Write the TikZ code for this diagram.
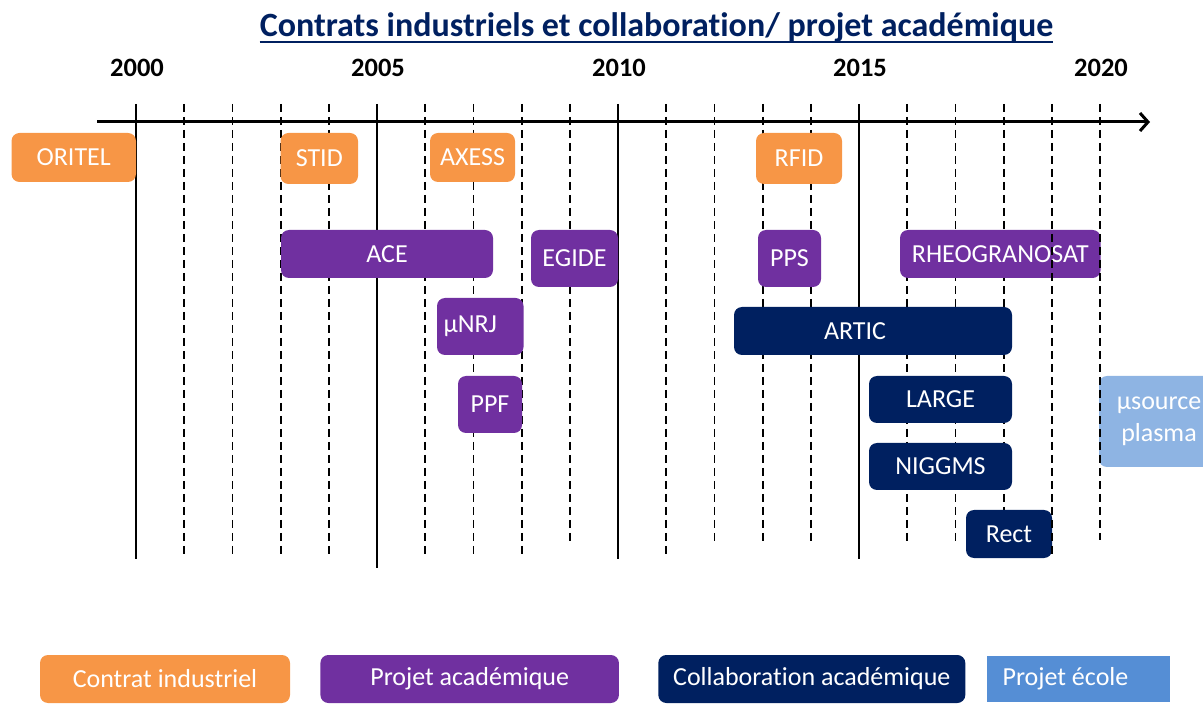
\documentclass[tikz,border=0pt]{standalone}
\usepackage{fontspec}
\setmainfont{Carlito}[Ligatures=NoCommon]
\usetikzlibrary{arrows.meta, positioning}
\definecolor{orangeC}{HTML}{F79646}
\definecolor{purpleA}{HTML}{7030A0}
\definecolor{navyC}{HTML}{002060}
\definecolor{skyE}{HTML}{8EB4E3}
\definecolor{blueE}{HTML}{558ED5}
\tikzset{%
	box/.style={rectangle, rounded corners=8pt, inner sep=0mm, text=white,%
		font=\fontsize{26}{32}\selectfont},
	indus/.style={box, fill=orangeC},
	acad/.style={box, fill=purpleA},
	collab/.style={box, fill=navyC},
	ecole/.style={box, fill=skyE},
	legend/.style={minimum height=48pt},
	title/.style={inner sep=0mm, anchor=base, text=navyC, font=\bfseries\fontsize{34}{40}\selectfont},
	year/.style={inner sep=0mm, anchor=base, font=\bfseries\fontsize{26.5}{30}\selectfont},
	major/.style={line width=2.7pt},
	minor/.style={line width=1.8pt, dash pattern=on 8pt off 5pt},
	axis/.style={line width=3pt, -{Straight Barb[length=8pt,width=18pt,line width=3pt]}}
}
\begin{document}
\begin{tikzpicture}[x=1pt, y=-1pt]
	\clip (0,0) rectangle (1203,708);
	\node[title] (title) at (656.5,37) {Contrats industriels et collaboration/ projet académique};
	\draw[navyC, line width=2.5pt] ([yshift=-5pt]title.base west) -- ([yshift=-5pt]title.base east);

	% years
	\foreach \i/\lbl in {0/2000, 5/2005, 10/2010, 15/2015, 20/2020}
		\node[year] (y\lbl) at ({137+\i*48.2},77) {\lbl};

	% grid
	\foreach \i/\b in {1/557, 2/557, 3/557, 4/557, 6/557, 7/557, 8/557, 9/545, 11/557,%
		12/545, 13/545, 14/545, 16/545, 17/545, 18/545}
		\draw[minor] ({136+\i*48.2},104) -- ({136+\i*48.2},\b);
	\foreach \i/\b in {0/559, 5/568, 10/559, 15/559}
		\draw[major] ({136+\i*48.2},104) -- ({136+\i*48.2},\b);

	\coordinate (axstart) at (97,122);
	\coordinate (axend) at (1150,122);
	\draw[axis] (axstart) -- (axend);

	% industrial contracts
	\node[indus, minimum width=124.5pt, minimum height=49pt] (oritel) at (73.75,157.5) {ORITEL};
	\node[indus, minimum width=77.5pt, minimum height=51pt] (stid) at (319.25,158.5) {STID};
	\node[indus, minimum width=85pt, minimum height=49pt] (axess) at (472.5,157.5) {AXESS};
	\node[indus, minimum width=86pt, minimum height=51pt] (rfid) at (799,158.5) {RFID};

	% academic projects
	\node[acad, minimum width=212pt, minimum height=48pt] (ace) at (387,254) {ACE};
	\node[acad, minimum width=87pt, minimum height=57pt] (egide) at (574.5,258.5) {EGIDE};
	\node[acad, minimum width=63pt, minimum height=57pt] (pps) at (789.5,258.5) {PPS};
	\node[acad, minimum width=200.6pt, minimum height=48pt] (rheo) at (1000.3,254) {RHEOGRANOSAT};
	\node[acad, minimum width=86.5pt, minimum height=57pt] (munrj) at (480.25,326.5) {µNRJ\hspace*{20pt}};
	\node[acad, minimum width=64pt, minimum height=57pt] (ppf) at (490,404.5) {PPF};

	% academic collaborations
	\node[collab, minimum width=278pt, minimum height=48pt] (artic) at (873,331) {ARTIC\hspace*{36pt}};
	\node[collab, minimum width=143pt, minimum height=47pt] (large) at (940.5,399.5) {LARGE};
	\node[collab, minimum width=143pt, minimum height=47pt] (niggms) at (940.5,466.5) {NIGGMS};
	\node[collab, minimum width=86pt, minimum height=48pt] (rect) at (1009,534) {Rect};

	% school project
	\node[ecole, minimum width=120pt, minimum height=91pt, align=center] (usource) at (1159,421.5) {µsource\\plasma};

	\foreach \i/\b in {19/558, 20/540}
		\draw[minor] ({136+\i*48.2},104) -- ({136+\i*48.2},\b);

	% legend
	\node[indus, legend, minimum width=250pt] (legind) at (165,679) {Contrat industriel};
	\node[acad, legend, minimum width=298.5pt, right=30pt of legind] (legacad) {Projet académique};
	\node[collab, legend, minimum width=307pt, right=39pt of legacad] (legcollab) {Collaboration académique};
	\node[box, fill=blueE, rounded corners=0pt, minimum height=45.7pt, minimum width=182.5pt,%
		right=21.5pt of legcollab] (legecole) {Projet école\hspace*{26pt}};
\end{tikzpicture}
\end{document}
